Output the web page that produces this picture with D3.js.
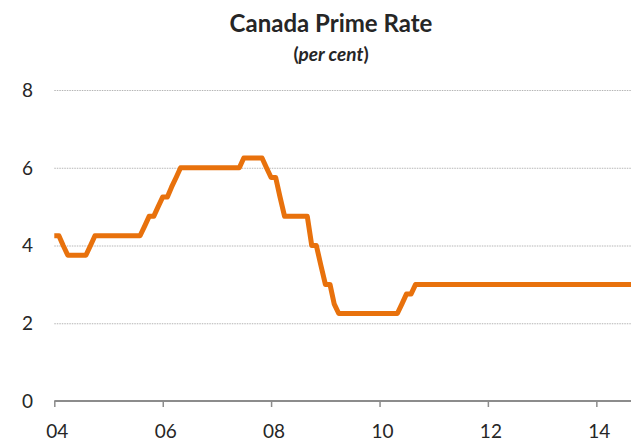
<!DOCTYPE html>
<html>
<head>
<meta charset="utf-8">
<script src="https://cdn.jsdelivr.net/npm/d3@7"></script>
<style>
  body { margin: 0; background: #fff; }
  svg { display: block; font-family: Lato, "Open Sans", sans-serif; }
</style>
</head>
<body>
<div id="chart"></div>
<script>
// monthly prime rate, starting Jan 2004 (month-end values)
var startMonth = "2004-01";
var primeRate = [
    4.25, 4.25, 4.00, 3.75, 3.75, 3.75, 3.75, 3.75, 4.00, 4.25, 4.25, 4.25,   // 2004
    4.25, 4.25, 4.25, 4.25, 4.25, 4.25, 4.25, 4.25, 4.50, 4.75, 4.75, 5.00,   // 2005
    5.25, 5.25, 5.50, 5.75, 6.00, 6.00, 6.00, 6.00, 6.00, 6.00, 6.00, 6.00,   // 2006
    6.00, 6.00, 6.00, 6.00, 6.00, 6.00, 6.25, 6.25, 6.25, 6.25, 6.25, 6.00,   // 2007
    5.75, 5.75, 5.25, 4.75, 4.75, 4.75, 4.75, 4.75, 4.75, 4.00, 4.00, 3.50,   // 2008
    3.00, 3.00, 2.50, 2.25, 2.25, 2.25, 2.25, 2.25, 2.25, 2.25, 2.25, 2.25,   // 2009
    2.25, 2.25, 2.25, 2.25, 2.25, 2.50, 2.75, 2.75, 3.00, 3.00, 3.00, 3.00,   // 2010
    3.00, 3.00, 3.00, 3.00, 3.00, 3.00, 3.00, 3.00, 3.00, 3.00, 3.00, 3.00,   // 2011
    3.00, 3.00, 3.00, 3.00, 3.00, 3.00, 3.00, 3.00, 3.00, 3.00, 3.00, 3.00,   // 2012
    3.00, 3.00, 3.00, 3.00, 3.00, 3.00, 3.00, 3.00, 3.00, 3.00, 3.00, 3.00,   // 2013
    3.00, 3.00, 3.00, 3.00, 3.00, 3.00, 3.00, 3.00, 3.00, 3.00, 3.00, 3.00    // 2014
];
var yTicks = [0, 2, 4, 6, 8];
var xTickYears = [2004, 2006, 2008, 2010, 2012, 2014];
var title = "Canada Prime Rate";

var width = 631, height = 445;

var svg = d3.select("#chart")
    .append("svg")
    .attr("width", width)
    .attr("height", height);

var parseMonth = d3.timeParse("%Y-%m");
var t0 = parseMonth(startMonth);
var data = primeRate.map(function(v, i) {
    return { date: d3.timeMonth.offset(t0, i), value: v };
});

// the plot runs off the right edge of the picture
var x = d3.scaleTime()
    .domain([new Date(2004, 0, 1), new Date(2015, 0, 1)])
    .range([54.3, 650.5]);

var y = d3.scaleLinear()
    .domain([0, 8])
    .range([401, 90]);

// dotted gridlines
svg.append("g")
    .selectAll("line")
    .data(yTicks.filter(function(d) { return d > 0; }))
    .enter()
    .append("line")
    .attr("x1", 54.3)
    .attr("x2", width)
    .attr("y1", function(d) { return y(d) + 0.5; })
    .attr("y2", function(d) { return y(d) + 0.5; })
    .attr("stroke", "#b5b5b5")
    .attr("stroke-width", 1)
    .attr("stroke-dasharray", "1.5,1");

// y labels
svg.append("g")
    .selectAll("text")
    .data(yTicks)
    .enter()
    .append("text")
    .attr("x", 33)
    .attr("y", function(d) { return y(d); })
    .attr("dy", "0.36em")
    .attr("text-anchor", "end")
    .style("font-size", "19px")
    .style("fill", "#262626")
    .text(function(d) { return d; });

// x axis
var xAxis = d3.axisBottom(x)
    .tickValues(xTickYears.map(function(yr) { return new Date(yr, 0, 1); }))
    .tickSize(6)
    .tickPadding(18)
    .tickFormat(d3.timeFormat("%y"));

var gx = svg.append("g")
    .attr("transform", "translate(0,401)")
    .call(xAxis);

gx.select(".domain")
    .attr("stroke", "#8c8c8c")
    .attr("stroke-width", 2)
    .attr("d", "M" + x.range()[0] + ",0H" + x.range()[1]);
gx.selectAll(".tick line")
    .attr("stroke", "#8c8c8c")
    .attr("stroke-width", 1.5);
gx.selectAll(".tick text")
    .attr("dx", "2.5")
    .style("font-family", "Lato, 'Open Sans', sans-serif")
    .style("font-size", "19px")
    .style("fill", "#262626");

// the line
var line = d3.line()
    .x(function(d) { return x(d.date); })
    .y(function(d) { return y(d.value); });

svg.append("path")
    .datum(data)
    .attr("d", line)
    .attr("fill", "none")
    .attr("stroke", "#e8710c")
    .attr("stroke-width", 5)
    .attr("stroke-linejoin", "round");

// title
svg.append("text")
    .attr("x", 331)
    .attr("y", 32)
    .attr("text-anchor", "middle")
    .style("font-size", "24px")
    .style("font-weight", "bold")
    .style("fill", "#262626")
    .text(title);

var sub = svg.append("text")
    .attr("x", 331)
    .attr("y", 61)
    .attr("text-anchor", "middle")
    .style("font-size", "19px")
    .style("font-weight", "bold")
    .style("fill", "#262626");
sub.append("tspan").text("(");
sub.append("tspan").style("font-style", "italic").text("per cent");
sub.append("tspan").text(")");
</script>
</body>
</html>
